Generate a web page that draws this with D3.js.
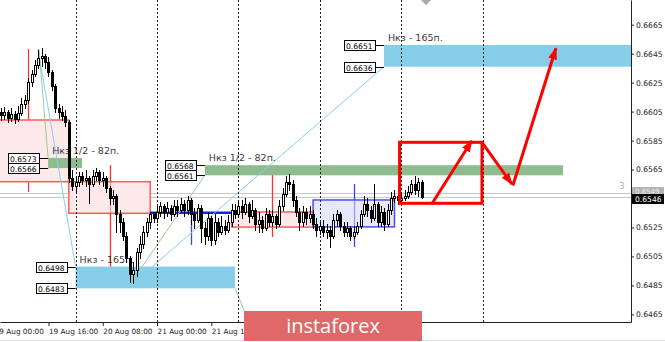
<!DOCTYPE html>
<html><head><meta charset="utf-8">
<script src="https://cdn.jsdelivr.net/npm/d3@7"></script>
<style>
html,body{margin:0;padding:0;background:#fff;overflow:hidden;}
svg{display:block;font-family:"DejaVu Sans",sans-serif;}
</style></head><body>
<svg id="c" width="665" height="342"></svg>
<script>
// ---------- DATA (time in trading hours from 19 Aug 00:00, prices AUDUSD) ----------
const candleHours = d3.range(2, 127);
const opens = [0.66047,0.66027,0.66047,0.66006,0.66034,0.65999,0.66040,0.66103,0.66130,0.66254,
 0.66310,0.66372,0.66420,0.66434,0.66392,0.66323,0.66227,0.66075,0.66047,0.66020,
 0.65978,0.65592,0.65536,0.65564,0.65605,0.65578,0.65592,0.65550,0.65605,0.65633,
 0.65578,0.65592,0.65523,0.65454,0.65467,0.65343,0.65288,0.65191,0.65039,0.64929,
 0.64956,0.65081,0.65136,0.65219,0.65288,0.65343,0.65316,0.65357,0.65398,0.65357,
 0.65385,0.65343,0.65398,0.65371,0.65412,0.65371,0.65440,0.65343,0.65302,0.65385,
 0.65247,0.65191,0.65316,0.65164,0.65288,0.65219,0.65260,0.65233,0.65288,0.65371,
 0.65343,0.65398,0.65357,0.65412,0.65329,0.65371,0.65274,0.65302,0.65247,0.65343,
 0.65288,0.65329,0.65274,0.65398,0.65481,0.65564,0.65550,0.65440,0.65357,0.65288,
 0.65357,0.65316,0.65343,0.65274,0.65233,0.65260,0.65219,0.65233,0.65191,0.65302,
 0.65343,0.65260,0.65219,0.65247,0.65191,0.65219,0.65260,0.65343,0.65412,0.65371,
 0.65316,0.65412,0.65288,0.65357,0.65274,0.65371,0.65454,0.65467,0.65440,0.65454,
 0.65467,0.65495,0.65550,0.65509,0.65564];
const highs = [0.66075,0.66082,0.66061,0.66075,0.66054,0.66089,0.66144,0.66165,0.66282,0.66337,
 0.66406,0.66475,0.66489,0.66448,0.66427,0.66337,0.66241,0.66103,0.66089,0.66061,
 0.65992,0.65647,0.65605,0.65633,0.65633,0.65647,0.65605,0.65647,0.65661,0.65647,
 0.65633,0.65605,0.65536,0.65509,0.65481,0.65371,0.65316,0.65219,0.65053,0.65012,
 0.65109,0.65191,0.65260,0.65316,0.65357,0.65357,0.65398,0.65426,0.65412,0.65426,
 0.65405,0.65440,0.65440,0.65454,0.65440,0.65467,0.65454,0.65385,0.65412,0.65405,
 0.65288,0.65357,0.65329,0.65343,0.65316,0.65329,0.65302,0.65336,0.65412,0.65412,
 0.65440,0.65440,0.65454,0.65426,0.65440,0.65385,0.65357,0.65329,0.65385,0.65371,
 0.65371,0.65343,0.65440,0.65523,0.65605,0.65619,0.65578,0.65467,0.65385,0.65398,
 0.65385,0.65398,0.65371,0.65316,0.65288,0.65302,0.65274,0.65260,0.65343,0.65371,
 0.65357,0.65288,0.65288,0.65260,0.65260,0.65288,0.65371,0.65467,0.65454,0.65398,
 0.65550,0.65426,0.65398,0.65385,0.65412,0.65495,0.65509,0.65481,0.65481,0.65509,
 0.65536,0.65578,0.65605,0.65592,0.65578];
const lows = [0.65992,0.65999,0.65978,0.65985,0.65971,0.65985,0.66027,0.66075,0.66109,0.66227,
 0.66296,0.66351,0.66365,0.66351,0.66296,0.66199,0.66047,0.66006,0.65992,0.65951,
 0.65564,0.65509,0.65495,0.65536,0.65550,0.65536,0.65419,0.65536,0.65578,0.65550,
 0.65536,0.65495,0.65412,0.65412,0.65219,0.65219,0.65164,0.65012,0.64874,0.64867,
 0.64916,0.65039,0.65109,0.65191,0.65247,0.65288,0.65288,0.65329,0.65316,0.65329,
 0.65302,0.65329,0.65329,0.65357,0.65329,0.65343,0.65274,0.65247,0.65288,0.65150,
 0.65136,0.65164,0.65129,0.65136,0.65191,0.65205,0.65205,0.65219,0.65260,0.65316,
 0.65329,0.65316,0.65343,0.65288,0.65316,0.65233,0.65219,0.65219,0.65233,0.65260,
 0.65260,0.65247,0.65260,0.65371,0.65467,0.65509,0.65398,0.65329,0.65233,0.65260,
 0.65274,0.65288,0.65247,0.65191,0.65205,0.65191,0.65178,0.65115,0.65178,0.65260,
 0.65233,0.65191,0.65191,0.65164,0.65178,0.65205,0.65247,0.65329,0.65329,0.65288,
 0.65302,0.65260,0.65260,0.65233,0.65260,0.65343,0.65426,0.65412,0.65426,0.65440,
 0.65454,0.65481,0.65481,0.65467,0.65454];
const closes = [0.66027,0.66047,0.66006,0.66034,0.65999,0.66040,0.66103,0.66130,0.66254,0.66310,
 0.66372,0.66420,0.66434,0.66392,0.66323,0.66227,0.66075,0.66047,0.66020,0.65978,
 0.65592,0.65536,0.65564,0.65605,0.65578,0.65592,0.65550,0.65605,0.65633,0.65578,
 0.65592,0.65523,0.65454,0.65467,0.65343,0.65288,0.65191,0.65039,0.64929,0.64956,
 0.65081,0.65136,0.65219,0.65288,0.65343,0.65316,0.65357,0.65398,0.65357,0.65385,
 0.65343,0.65398,0.65371,0.65412,0.65371,0.65440,0.65343,0.65302,0.65385,0.65247,
 0.65191,0.65316,0.65164,0.65288,0.65219,0.65260,0.65233,0.65288,0.65371,0.65343,
 0.65398,0.65357,0.65412,0.65329,0.65371,0.65274,0.65302,0.65247,0.65343,0.65288,
 0.65329,0.65274,0.65398,0.65481,0.65564,0.65550,0.65440,0.65357,0.65288,0.65357,
 0.65316,0.65343,0.65274,0.65233,0.65260,0.65219,0.65233,0.65191,0.65302,0.65343,
 0.65260,0.65219,0.65247,0.65191,0.65219,0.65260,0.65343,0.65412,0.65371,0.65316,
 0.65412,0.65288,0.65357,0.65274,0.65371,0.65454,0.65467,0.65440,0.65454,0.65467,
 0.65495,0.65550,0.65509,0.65564,0.65460];

const yTicks = [0.6465,0.6485,0.6505,0.6525,0.6565,0.6585,0.6605,0.6625,0.6645,0.6665];
const xTickHours = [0,16,32,48,64];
const xTickLabels = ["19 Aug 00:00","19 Aug 16:00","20 Aug 08:00","21 Aug 00:00","21 Aug 16:00"];
const daySeparators = [24,48,72,96,120,144];

// target zones
const zoneLabels = ["Нкз 1/2 - 82п.","Нкз 1/2 - 82п.","Нкз - 165п.","Нкз - 165п."];
const zoneTop    = [0.6573,0.6568,0.6498,0.6651];
const zoneBottom = [0.6566,0.6561,0.6483,0.6636];
const zoneStart  = [15.9,62.1,24,114.9];
const zoneEnd    = [25.9,167.7,71,200];
const zoneKind   = ["half","half","full","full"];

// session range boxes
const boxStart = [-2,22,70,94];
const boxEnd   = [22,46,94,118];
const boxHigh  = [0.65992,0.65566,0.65357,0.65440];
const boxLow   = [0.65566,0.65348,0.65253,0.65254];
const boxKind  = ["red","red","red","blue"];
const flatRange = {start:46, end:70, price:0.65352};
// vertical range markers
const vHour = [10,34,82,58,106];
const vHigh = [0.66482,0.65681,0.65619,0.65454,0.65550];
const vLow  = [0.65495,0.64867,0.65184,0.65129,0.65115];
const vKind = ["red","red","red","blue","blue"];

// thin projection lines [hour1, price1, hour2, price2]
const projLines = [
  [12.9,0.66482,24,0.6498,"blue"],
  [13.2,0.66482,15.9,0.6573,"green"],
  [41,0.64867,114.9,0.6636,"blue"],
  [40.3,0.64867,62.1,0.6561,"green"],
  [71,0.6483,74.8,0.64611,"green"]
];
// forecast
const forecastBox = {h1:119.5,h2:143.8,top:0.65838,bottom:0.65417};
const forecastArrows = [
  [129,0.65412,140.8,0.65849],
  [143.8,0.65838,152.6,0.6555],
  [152.9,0.6554,165.6,0.66487]
];
const bid = 0.6546, ask = 0.6549, spread = "3";

// ---------- SCALES ----------
const plotR = 631, plotB = 322;
const x = d3.scaleLinear().domain([1.71,187.73]).range([0,plotR]);
const y = d3.scaleLinear().domain([0.645975,0.668205]).range([plotB,0]);

const svg = d3.select("#c");
svg.append("rect").attr("width",665).attr("height",342).attr("fill","#fff");
const defs = svg.append("defs");
defs.append("clipPath").attr("id","plot")
  .append("rect").attr("x",0).attr("y",0).attr("width",plotR).attr("height",plotB);
defs.append("marker").attr("id","ah").attr("markerUnits","userSpaceOnUse")
  .attr("markerWidth",12).attr("markerHeight",10).attr("refX",11).attr("refY",4.5)
  .attr("orient","auto").append("path").attr("d","M0,0L12,4.5L0,9Z").attr("fill","#ff0000");

const plot = svg.append("g").attr("clip-path","url(#plot)");

// bid / ask lines
[ask,bid].forEach(p=>{
  plot.append("line").attr("x1",0).attr("x2",plotR)
    .attr("y1",Math.round(y(p))+0.5).attr("y2",Math.round(y(p))+0.5)
    .attr("stroke","#c8c8c8").attr("stroke-width",1);
});

// vertical range markers (under boxes)
vHour.forEach((h,i)=>{
  plot.append("line").attr("x1",Math.round(x(h))+0.5).attr("x2",Math.round(x(h))+0.5)
    .attr("y1",y(vHigh[i])).attr("y2",y(vLow[i]))
    .attr("stroke",vKind[i]==="red"?"#ff3030":"#4040ff").attr("stroke-width",1.2);
});

// session boxes
boxStart.forEach((s,i)=>{
  const red = boxKind[i]==="red";
  plot.append("rect").attr("x",x(s)).attr("y",y(boxHigh[i]))
    .attr("width",x(boxEnd[i])-x(s)).attr("height",y(boxLow[i])-y(boxHigh[i]))
    .attr("fill",red?"#fde9e9":"#e8e8fb")
    .attr("stroke",red?"#ff5a5a":"#4b4bff").attr("stroke-width",1.5);
});
plot.append("line").attr("x1",x(flatRange.start)).attr("x2",x(flatRange.end))
  .attr("y1",y(flatRange.price)).attr("y2",y(flatRange.price))
  .attr("stroke","#1a1aff").attr("stroke-width",2.5);
// markers faintly visible through later boxes
vHour.forEach((h,i)=>{
  if(i===0) return;
  plot.append("line").attr("x1",Math.round(x(h))+0.5).attr("x2",Math.round(x(h))+0.5)
    .attr("y1",y(vHigh[i])).attr("y2",y(vLow[i]))
    .attr("stroke",vKind[i]==="red"?"#ff3030":"#4040ff").attr("stroke-width",1.2)
    .attr("stroke-opacity",0.5);
});

// zones
zoneTop.forEach((t,i)=>{
  plot.append("rect").attr("x",x(zoneStart[i])).attr("y",y(t))
    .attr("width",x(zoneEnd[i])-x(zoneStart[i])).attr("height",y(zoneBottom[i])-y(t))
    .attr("fill",zoneKind[i]==="half"?"#8fbc8f":"#87ceeb");
});

// projection lines
projLines.forEach(l=>{
  plot.append("line").attr("x1",x(l[0])).attr("y1",y(l[1])).attr("x2",x(l[2])).attr("y2",y(l[3]))
    .attr("stroke",l[4]==="blue"?"#87ceeb":"#9dc89d").attr("stroke-width",1);
});

// zone texts and price tags
const fmt = d3.format(".4f");
zoneTop.forEach((t,i)=>{
  const x0 = x(zoneStart[i]);
  plot.append("text").attr("x",x0+4).attr("y",y(t)-4).text(zoneLabels[i])
    .attr("font-size",9.5).attr("fill","#3a3a3a");
  [t,zoneBottom[i]].forEach(p=>{
    const yy = Math.round(y(p));
    plot.append("line").attr("x1",x0-9).attr("x2",x0).attr("y1",yy+0.5).attr("y2",yy+0.5)
      .attr("stroke","#000").attr("stroke-width",1);
    plot.append("rect").attr("x",Math.round(x0-40)+0.5).attr("y",yy-4.5).attr("width",31).attr("height",10)
      .attr("fill","#fff").attr("stroke","#000").attr("stroke-width",1);
    plot.append("text").attr("x",Math.round(x0-38)).attr("y",yy+4).text(fmt(p))
      .attr("font-size",7.6).attr("fill","#000");
  });
});

// day separators
daySeparators.forEach(h=>{
  plot.append("line").attr("x1",Math.round(x(h))+0.5).attr("x2",Math.round(x(h))+0.5)
    .attr("y1",0).attr("y2",plotB).attr("stroke","#222").attr("stroke-width",1)
    .attr("stroke-dasharray","2,2");
});

// candles
const cg = plot.append("g");
candleHours.forEach((h,i)=>{
  const cx = Math.round(x(h));
  const o=opens[i], c=closes[i];
  cg.append("line").attr("x1",cx+0.5).attr("x2",cx+0.5)
    .attr("y1",Math.round(y(highs[i]))).attr("y2",Math.round(y(lows[i]))+1)
    .attr("stroke","#000").attr("stroke-width",1);
  const top = Math.round(y(Math.max(o,c))), bot = Math.round(y(Math.min(o,c)));
  const bull = c>=o;
  cg.append("rect").attr("x",cx-0.5).attr("y",top+0.5)
    .attr("width",2).attr("height",Math.max(bot-top,1))
    .attr("fill",bull?"#fff":"#000").attr("stroke","#000").attr("stroke-width",1);
});

// spread text
plot.append("text").attr("x",619).attr("y",y(ask)-4).text(spread)
  .attr("font-size",9).attr("fill","#b0b0b0");

// forecast
plot.append("rect").attr("x",x(forecastBox.h1)).attr("y",y(forecastBox.top))
  .attr("width",x(forecastBox.h2)-x(forecastBox.h1)).attr("height",y(forecastBox.bottom)-y(forecastBox.top))
  .attr("fill","none").attr("stroke","#ff0000").attr("stroke-width",3);
forecastArrows.forEach(a=>{
  plot.append("line").attr("x1",x(a[0])).attr("y1",y(a[1])).attr("x2",x(a[2])).attr("y2",y(a[3]))
    .attr("stroke","#ff0000").attr("stroke-width",3).attr("marker-end","url(#ah)");
});

// chart shift marker
svg.append("path").attr("d","M421,0L431,0L426,5Z").attr("fill","#a8a8a8");

// axes
const yAxis = d3.axisRight(y).tickValues(yTicks).tickFormat(fmt).tickSize(3).tickSizeOuter(0);
const ya = svg.append("g").attr("transform",`translate(${plotR},0)`).call(yAxis);
ya.selectAll("text").attr("font-size",7.6).attr("fill","#222").attr("x",5).attr("font-family","DejaVu Sans");
ya.selectAll("line,path").attr("stroke","#222");

const xAxis = d3.axisBottom(x).tickValues(xTickHours).tickFormat((d,i)=>xTickLabels[i]).tickSize(4).tickSizeOuter(0);
const xa = svg.append("g").attr("transform",`translate(0,${plotB})`).call(xAxis);
xa.selectAll("text").attr("font-size",7.3).attr("fill","#222").attr("text-anchor","start").attr("x",0).attr("font-family","DejaVu Sans");
xa.selectAll("line,path").attr("stroke","#222");

// ask / bid tags
const askY = Math.round(y(ask));
svg.append("rect").attr("x",632).attr("y",askY-6).attr("width",32).attr("height",9).attr("fill","#b4b4b4");
svg.append("text").attr("x",635).attr("y",askY+1).text(fmt(ask)).attr("font-size",7).attr("fill","#eee");
const bidY = Math.round(y(bid));
svg.append("rect").attr("x",632).attr("y",bidY-3).attr("width",32).attr("height",10).attr("fill","#000");
svg.append("text").attr("x",635).attr("y",bidY+5).text(fmt(bid)).attr("font-size",7.6).attr("fill","#fff");

// bottom light line
svg.append("line").attr("x1",0).attr("x2",665).attr("y1",340.5).attr("y2",340.5).attr("stroke","#e2e2e2");

// banner
svg.append("rect").attr("x",244).attr("y",311).attr("width",178).attr("height",30).attr("fill","#e06868");
svg.append("text").attr("x",333).attr("y",333).attr("text-anchor","middle").text("instaforex")
  .attr("font-family","'Open Sans',sans-serif").attr("font-size",20).attr("fill","#fff");
</script>
</body></html>
